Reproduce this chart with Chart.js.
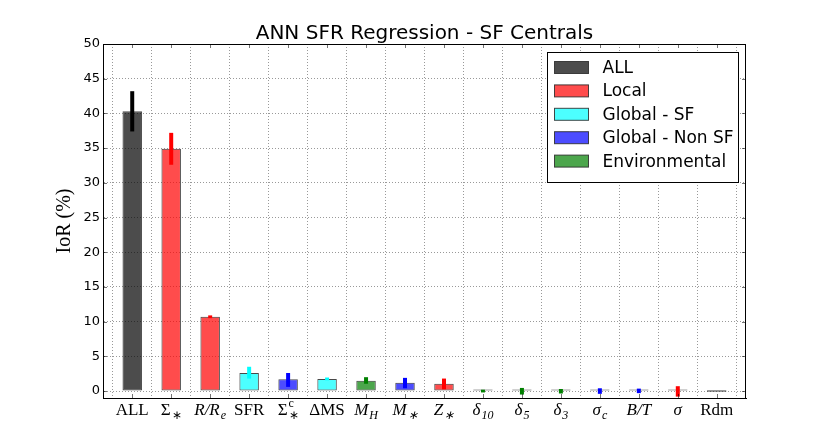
<!DOCTYPE html>
<html>
<head>
<meta charset="utf-8">
<script src="https://cdn.jsdelivr.net/npm/chart.js@4.4.0/dist/chart.umd.min.js"></script>
<style>
html,body{margin:0;padding:0;background:#fff;}
#wrap{width:830px;height:443px;}
</style>
</head>
<body>
<div id="wrap"><canvas id="c" width="830" height="443"></canvas></div>
<script>
// ---- data ----
const categories = ['ALL','Σ_{∗}','R/R_{e}','SFR','Σ_{∗}^{c}','ΔMS','M_{H}','M_{∗}','Z_{∗}','δ_{10}','δ_{5}','δ_{3}','σ_{c}','B/T','σ','Rdm'];
const values     = [40.3, 34.9, 10.7, 2.6, 1.7, 1.75, 1.5, 1.2, 1.05, 0.05, 0.05, 0.05, 0.05, 0.05, 0.05, 0.0];
const errLow     = [37.4, 32.6, 10.5, 1.8, 0.6, 1.55, 1.05, 0.4, 0.25, -0.2, -0.5, -0.35, -0.4, -0.3, -0.8, 0.0];
const errHigh    = [43.2, 37.2, 10.9, 3.5, 2.6, 1.95, 2.0, 1.9, 1.8, 0.2, 0.45, 0.3, 0.4, 0.35, 0.7, 0.0];
const groupOf    = [0, 1, 1, 2, 3, 2, 4, 3, 1, 4, 4, 4, 3, 3, 1, 5];
const groupNames = ['ALL', 'Local', 'Global - SF', 'Global - Non SF', 'Environmental', 'Random'];
const yTicks     = [0, 5, 10, 15, 20, 25, 30, 35, 40, 45, 50];

// ---- styles ----
const fillColors = ['rgba(0,0,0,0.7)','rgba(255,0,0,0.7)','rgba(0,255,255,0.7)','rgba(0,0,255,0.7)','rgba(0,128,0,0.7)','rgba(128,128,128,0.7)'];
const errColors  = ['#000000','#ff0000','#00ffff','#0000ff','#008000','#808080'];
const italicLabels = new Set(['R/R_{e}','M_{H}','M_{∗}','Z_{∗}','δ_{10}','δ_{5}','δ_{3}','σ_{c}','B/T','σ']);
const legendGroups = [0,1,2,3,4];

const datasets = groupNames.map((name, g) => ({
  label: name,
  data: categories.map((c, i) => groupOf[i] === g ? {x: i, y: values[i]} : null).filter(p => p),
  backgroundColor: fillColors[g],
  borderColor: 'rgba(40,40,40,0.85)',
  borderWidth: 1,
  borderSkipped: false,
  minBarLength: 1.5,
  grouped: false,
  barPercentage: 0.5,
  categoryPercentage: 1.0
}));

function parseLabel(s){
  const m = s.match(/^([^_^]*)(?:_\{([^}]*)\})?(?:\^\{([^}]*)\})?$/);
  return {base: m[1], sub: m[2] || '', sup: m[3] || ''};
}

const extrasPlugin = {
  id: 'extras',
  afterDatasetsDraw(chart){
    const ctx = chart.ctx, xs = chart.scales.x, ys = chart.scales.y;
    ctx.save();
    ctx.lineWidth = 4;
    ctx.lineCap = 'butt';
    categories.forEach((c, i) => {
      if (errHigh[i] === errLow[i]) return;
      const px = xs.getPixelForValue(i);
      ctx.strokeStyle = errColors[groupOf[i]];
      ctx.beginPath();
      ctx.moveTo(px, ys.getPixelForValue(errLow[i]));
      ctx.lineTo(px, ys.getPixelForValue(errHigh[i]));
      ctx.stroke();
    });
    ctx.restore();
  },
  afterDraw(chart){
    const ctx = chart.ctx, xs = chart.scales.x, ys = chart.scales.y, a = chart.chartArea;
    ctx.save();
    // tick marks inward on all sides
    ctx.strokeStyle = 'rgba(0,0,0,0.55)';
    ctx.lineWidth = 1;
    categories.forEach((c, i) => {
      const px = Math.round(xs.getPixelForValue(i)) + 0.5;
      ctx.beginPath();
      ctx.moveTo(px, a.bottom); ctx.lineTo(px, a.bottom - 4);
      ctx.moveTo(px, a.top); ctx.lineTo(px, a.top + 4);
      ctx.stroke();
    });
    yTicks.forEach(v => {
      const py = Math.round(ys.getPixelForValue(v)) + 0.5;
      ctx.beginPath();
      ctx.moveTo(a.left, py); ctx.lineTo(a.left + 4, py);
      ctx.moveTo(a.right, py); ctx.lineTo(a.right - 4, py);
      ctx.stroke();
    });
    // frame
    ctx.strokeStyle = '#000';
    ctx.lineWidth = 1;
    ctx.strokeRect(Math.round(a.left) + 0.5, Math.round(a.top) + 0.5, Math.round(a.right - a.left) - 1, Math.round(a.bottom - a.top));

    // x labels (math style)
    const baseY = a.bottom + 17;
    categories.forEach((c, i) => {
      const L = parseLabel(c);
      const it = italicLabels.has(c) ? 'italic ' : '';
      const fBase = it + '17px "Liberation Serif", serif';
      const fSmall = it + '12px "Liberation Serif", serif';
      ctx.font = fBase;
      const wb = ctx.measureText(L.base).width;
      ctx.font = fSmall;
      const ws = L.sub ? ctx.measureText(L.sub).width : 0;
      const wp = L.sup ? ctx.measureText(L.sup).width : 0;
      const extra = Math.max(ws, wp) + ((ws || wp) ? 1 : 0);
      const px = xs.getPixelForValue(i);
      const x0 = px - (wb + extra) / 2;
      ctx.fillStyle = '#000';
      ctx.textAlign = 'left';
      ctx.textBaseline = 'alphabetic';
      ctx.font = fBase;
      ctx.fillText(L.base, x0, baseY);
      ctx.font = fSmall;
      if (L.sub) ctx.fillText(L.sub, x0 + wb + 1, baseY + 4);
      if (L.sup) ctx.fillText(L.sup, x0 + wb + 1, baseY - 8);
    });

    // legend
    const bw = 191, bh = 130;
    const bx = Math.round(a.right - 8 - bw) + 0.5, by = Math.round(a.top + 8) + 0.5;
    ctx.fillStyle = '#fff';
    ctx.fillRect(bx, by, bw, bh);
    ctx.strokeStyle = '#000';
    ctx.lineWidth = 1;
    ctx.strokeRect(bx, by, bw, bh);
    ctx.font = '17px "DejaVu Sans", sans-serif';
    ctx.textBaseline = 'middle';
    legendGroups.forEach((g, k) => {
      const cy = by + 15 + k * 23.4;
      ctx.fillStyle = fillColors[g];
      ctx.fillRect(bx + 7, cy - 6, 34, 12);
      ctx.strokeStyle = 'rgba(40,40,40,0.85)';
      ctx.strokeRect(bx + 7, cy - 6, 34, 12);
      ctx.fillStyle = '#000';
      ctx.fillText(groupNames[g], bx + 55, cy + 1);
    });
    ctx.restore();
  }
};

new Chart(document.getElementById('c'), {
  type: 'bar',
  data: { datasets },
  plugins: [extrasPlugin],
  options: {
    responsive: false,
    animation: false,
    layout: { padding: { left: 48, right: 84, top: 24, bottom: 0 } },
    plugins: {
      legend: { display: false },
      tooltip: { enabled: false },
      title: {
        display: true,
        fullSize: false,
        text: 'ANN SFR Regression - SF Centrals',
        color: '#000',
        font: { family: '"DejaVu Sans", sans-serif', size: 20, weight: 'normal', lineHeight: 1.0 },
        padding: { top: 0, bottom: 0 }
      }
    },
    scales: {
      x: {
        type: 'linear',
        min: -0.75,
        max: 15.75,
        offset: false,
        afterBuildTicks: s => { s.ticks = categories.map((c, i) => ({ value: i })); },
        afterFit: s => { s.height = 45; },
        ticks: { display: false },
        grid: { color: 'rgba(0,0,0,0.4)', lineWidth: 1, drawTicks: false },
        border: { display: true, color: '#000', dash: [1, 2] }
      },
      y: {
        min: -1,
        max: 50,
        afterBuildTicks: s => { s.ticks = yTicks.map(v => ({ value: v })); },
        afterFit: s => { s.width = 103 - 48; },
        ticks: {
          color: '#000',
          padding: 3,
          font: { family: '"DejaVu Sans", sans-serif', size: 13 }
        },
        title: {
          display: true,
          text: 'IoR (%)',
          color: '#000',
          font: { family: '"Liberation Serif", serif', size: 20 },
          padding: { top: 5, bottom: 0 }
        },
        grid: { color: 'rgba(0,0,0,0.4)', lineWidth: 1, drawTicks: false },
        border: { display: true, color: '#000', dash: [1, 2] }
      }
    }
  }
});
</script>
</body>
</html>
